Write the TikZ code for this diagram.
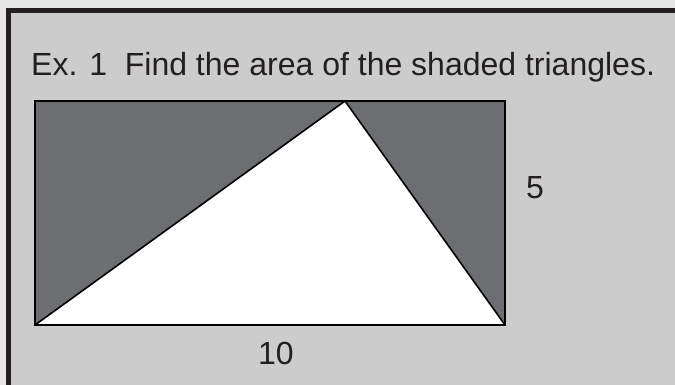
\documentclass[tikz,border=0pt]{standalone}
\usepackage{fontspec}
\setmainfont{Liberation Sans}
\usetikzlibrary{positioning}
\definecolor{paper}{HTML}{E6E6E6}
\definecolor{panel}{HTML}{CCCCCC}
\definecolor{frame}{HTML}{231F20}
\definecolor{darkfill}{HTML}{6D6E71}
\tikzset{
  label text/.style={inner sep=0pt, font=\fontsize{32}{38}\selectfont, text=frame},
  edge line/.style={draw=black, line width=1.6pt, line join=miter}
}
\begin{document}
\begin{tikzpicture}[x=1pt,y=-1pt]
\useasboundingbox (0,0) rectangle (675,385);
\fill[paper] (0,0) rectangle (675,385);
\fill[frame] (6,8) rectangle (680,390);
\fill[panel] (11,13) rectangle (680,390);
% title
\node[label text, anchor=base west] (title) at (31,75.5) {Ex. 1\ \ Find the area of the shaded triangles.};
% rectangle and triangle
\coordinate (A) at (35,325);
\coordinate (B) at (505,325);
\coordinate (C) at (505,101);
\coordinate (D) at (35,101);
\coordinate (P) at (345,101);
\fill[darkfill] (A) rectangle (C);
\fill[white] (A) -- (B) -- (P) -- cycle;
\draw[edge line] (A) -- (P) -- (B);
\draw[edge line] (A) rectangle (C);
% dimensions
\node[label text] (height) at (535,188) {5};
\node[label text] (width) at (276,353) {10};
\end{tikzpicture}
\end{document}
